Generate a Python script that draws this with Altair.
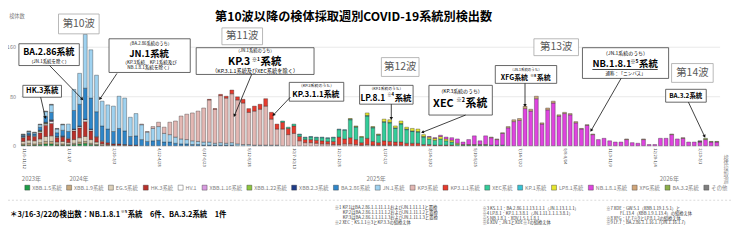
import datetime as dt
import json
import math
import pandas as pd
import altair as alt

FONT = "Noto Sans CJK JP"
N = 124


def pad(start, vals):
    return [0] * start + vals + [0] * (N - start - len(vals))


lineages = ["XBB.1.5系統", "XBB.1.9系統", "EG.5系統", "HK.3系統", "HV.1", "XBB.1.16系統",
            "XBB.1.22系統", "XBB.2.3系統", "BA.2.86系統", "JN.1系統", "KP3系統", "KP3.1.1系統",
            "XEC系統", "KP.1系統", "LP8.1系統", "NB.1.8.1系統", "XFG系統", "BA.3.2系統", "その他"]
colors = ["#1e9e48", "#c8a97e", "#ddd0b8", "#b8312b", "#ffffff", "#d99be0",
          "#8cc63f", "#1f3c88", "#2f86c9", "#9fd2f0", "#e3b7b3", "#e63b2e",
          "#33cc99", "#37c3d6", "#e6e62e", "#df44df", "#d2a679", "#8db04a", "#7f7f7f"]

xbb15 = pad(0, [1, 1, 1, 2, 3, 3, 1, 1, 1, 2, 3, 4, 2, 1])
xbb19 = pad(0, [2, 3, 2, 3, 4, 4, 2, 2, 1, 2, 3, 3, 2, 1, 1, 1])
eg5 = pad(0, [4, 5, 5, 6, 8, 9, 3, 4, 3, 6, 7, 8, 6, 4, 2, 1, 1, 1, 1])
hk3 = pad(0, [6, 7, 7, 10, 18, 20, 7, 7, 6, 14, 16, 24, 14, 8, 4, 3, 2, 2, 1, 1, 1])
hv1 = pad(0, [1, 1, 1, 2, 2, 3, 1, 1, 1, 2, 2, 3, 2, 1, 1])
xbb116 = pad(0, [0, 0, 0, 0, 1, 1])
xbb122 = pad(0, [0, 0, 0, 1, 1, 1])
xbb23 = pad(0, [1, 1, 0, 1, 1, 1, 1, 1, 0, 1, 1, 1, 1])
ba286 = pad(0, [2, 3, 3, 5, 9, 12, 6, 9, 11, 30, 35, 50, 50, 40, 24, 22, 20, 25, 22, 14,
                15, 10, 7, 8, 9, 6, 6, 4, 3, 3, 2, 2, 1, 1, 1, 1, 1, 1])
jn1 = pad(0, [1, 2, 2, 4, 8, 12, 6, 9, 12, 34, 50, 87, 78, 59, 40, 39, 41, 52, 53, 31,
              36, 24, 15, 20, 22, 14, 12, 10, 8, 7, 6, 5, 5, 5, 3, 4, 3, 4, 3, 2,
              2, 1, 1, 1, 1, 1])
kp3 = pad(21, [1, 1, 3, 7, 10, 20, 26, 37, 41, 45, 49, 55, 68, 55, 76, 73, 79, 71, 67, 52,
               55, 58, 63, 42, 26, 27, 18, 20, 8, 5, 5, 4, 3, 3, 2, 2, 3, 3, 2, 1,
               2, 1, 1, 1, 1, 1, 1])
kp311 = pad(33, [1, 1, 2, 3, 6, 5, 6, 6, 8, 8, 12, 11, 8, 11, 10, 12, 7, 5, 5, 5,
                 5, 4, 5, 12, 8, 10, 8, 4, 10, 6, 4, 7, 6, 5, 5, 4, 4, 4, 2, 2,
                 1, 1, 1, 1])
xec = pad(46, [2, 2, 3, 3, 3, 4, 4, 5, 5, 6, 12, 14, 29, 20, 9, 36, 22, 12, 30, 30,
               22, 29, 22, 19, 18, 12, 9, 8, 10, 7, 5, 2, 1, 1, 1, 1, 1, 1, 1, 1])
kp1 = pad(49, [1, 1, 1, 1, 1, 1, 1, 1, 1, 1, 1, 0, 1, 1, 1, 1, 1, 1, 1, 1, 1, 1, 1])
lp81 = pad(58, [1, 1, 1, 4, 1, 1, 4, 4, 3, 4, 3, 4, 4, 3, 3, 3, 4, 3, 3, 2, 1, 1, 1, 1, 1])
nb181 = pad(72, [1, 1, 2, 3, 4, 7, 4, 8, 14, 6, 14, 12, 9, 19, 29, 39, 41, 60, 56, 76,
                 35, 58, 69, 48, 52, 50, 37, 27, 33, 18, 10, 12, 8, 6, 6, 10, 5, 4, 10, 2,
                 2, 12, 12, 18, 11, 12, 6, 6, 6, 10, 6, 6])
xfg = pad(83, [1, 1, 1, 2, 3, 3, 4, 3, 4, 2, 3, 3, 2, 2, 2, 2, 1, 1, 1, 0,
               0, 0, 0, 0, 1, 0, 0, 1, 0, 0, 0, 0, 1, 0, 1])
ba32 = pad(120, [1, 2, 1, 1])
other = pad(0, [1, 1, 1, 1, 1, 1, 1, 1] + [0] * 112 + [1])

series = [xbb15, xbb19, eg5, hk3, hv1, xbb116, xbb122, xbb23, ba286, jn1, kp3, kp311,
          xec, kp1, lp81, nb181, xfg, ba32, other]

first_week = dt.date(2023, 11, 6)
week_start = [first_week + dt.timedelta(weeks=k) for k in range(N)]
week_labels = []
for d in week_start:
    e = d + dt.timedelta(days=6)
    week_labels.append(f"{d.month}/{d.day}-{e.month}/{e.day}")

rows = []
for li, (name, vals) in enumerate(zip(lineages, series)):
    for i, v in enumerate(vals):
        if v > 0:
            rows.append({"i": i, "lineage": name, "count": v, "order": li})
df = pd.DataFrame(rows)

W, H = 706, 125
xsc = alt.Scale(domain=[-0.5, N - 0.5], nice=False, zero=False)
ysc = alt.Scale(domain=[0, 200], nice=False)


def dx(px):
    return (px - 20.5) / (W / N) - 0.5


def dy(py):
    return (146 - py) / 0.625


xaxis = alt.Axis(values=list(range(N)), labelExpr=f"{json.dumps(week_labels)}[datum.value]",
                 labelAngle=90, labelFontSize=4.2, labelColor="#404040", labelFont=FONT,
                 ticks=False, domain=False, grid=False, labelPadding=2, labelOverlap=False,
                 labelBound=False, labelFlush=False, title=None)
yaxis = alt.Axis(values=list(range(0, 201, 20)), labelFontSize=5.5, labelColor="#7f7f7f",
                 labelFont=FONT, ticks=False, domain=False, grid=True, gridColor="#d9d9d9",
                 gridWidth=0.6, labelPadding=5, title=None)
legend = alt.Legend(orient="none", legendX=4, legendY=164, direction="horizontal", columns=19,
                    title=None, symbolType="square", symbolSize=25, symbolStrokeColor="#333333",
                    symbolStrokeWidth=0.4, labelFontSize=5.4, labelFont=FONT, labelColor="#808080",
                    labelOffset=2, columnPadding=3.2, padding=0)

bars = alt.Chart(df).transform_stack(
    stack="count", groupby=["i"], as_=["y0", "y1"],
    sort=[alt.SortField(field="order", order="ascending")]
).transform_calculate(
    xa="datum.i - 0.34", xb="datum.i + 0.34"
).mark_bar(stroke="#222222", strokeWidth=0.35).encode(
    x=alt.X("xa:Q", scale=xsc, axis=xaxis),
    x2="xb:Q",
    y=alt.Y("y0:Q", scale=ysc, axis=yaxis),
    y2="y1:Q",
    color=alt.Color("lineage:N", scale=alt.Scale(domain=lineages, range=colors), legend=legend),
)


# ---------- annotations (page pixel positions converted to data units) ----------
def cw(ch):
    if ord(ch) >= 0x2E80 or ch in "（）「」：、＊※　":
        return 1.0
    if ch in ".,:;'|":
        return 0.27
    if ch in "()-/[] ":
        return 0.34
    if ch.isdigit():
        return 0.57
    if ch.isupper():
        return 0.67
    return 0.52


def twidth(s, fs, bold):
    return sum(cw(c) for c in s) * fs * (1.04 if bold else 1.0)


texts = []


def add(t, x, y, fs, bold=False, color="#000000", align="center"):
    texts.append(dict(t=t, xa=dx(x), y0=dy(y), fs=fs, bold=bold, color=color, align=align))


def add_segs(segs, cx, cy, bold=True, color="#000000", align="center", gap=0.4):
    total = sum(twidth(t, fs, bold) for t, fs, r in segs) + gap * (len(segs) - 1)
    x = cx - total / 2 if align == "center" else cx
    for t, fs, r in segs:
        add(t, x, cy - r, fs, bold, color, "left")
        x += twidth(t, fs, bold) + gap


add_segs([("第10波以降の検体採取週別COVID-19系統別検出数", 12.3, 0)], 364, 16.3)
add("検体数", 17, 15.5, 5.2, color="#7f7f7f")

wave_boxes = [("第10波", 59, 13, 100, 33), ("第11波", 224, 27, 265, 44), ("第12波", 385, 57, 423, 76),
              ("第13波", 539, 38, 584, 55), ("第14波", 678, 63, 720, 82)]
for t, x1, y1, x2, y2 in wave_boxes:
    add(t, (x1 + x2) / 2, (y1 + y2) / 2, 10.5, color="#595959")

note_boxes = [(23, 85, 62, 97), (19, 43, 80, 65), (110, 38, 192, 72), (198, 47, 317, 74),
              (292, 82, 347, 101), (363, 85, 417, 104), (433, 85, 497, 115), (500, 65, 562, 83),
              (588, 47, 675, 78), (672, 89, 713, 102)]

add_segs([("HK.3系統", 7.5, 0)], 42.5, 91)
add_segs([("BA.2.86系統", 9, 0)], 49.5, 51.5)
add("（JN.1系統を除く）", 49.5, 61, 4.5)
add("（BA.2.86系統のうち）", 151, 43.2, 4.3)
add_segs([("JN.1系統", 9.5, 0)], 151, 53.3)
add("（KP.3系統、KP.1系統及び", 151, 62, 4.6)
add("NB.1.8.1系統を除く）", 151, 67.8, 4.6)
add("（JN.1系統のうち）", 257.5, 50.3, 4.3)
add_segs([("KP.3", 10.5, 0), ("※1", 5, 3.2), ("系統", 10.5, 0)], 257.5, 61.5)
add("（KP.3.1.1系統及びXEC系統を除く）", 257.5, 70.2, 5.3)
add("（KP.3系統のうち）", 319.5, 86, 4)
add_segs([("KP.3.1.1系統", 8, 0)], 319.5, 94.5)
add("（KP.1系統のうち）", 390, 89, 3.8)
add_segs([("LP.8.1", 8.5, 0), ("※4", 4.3, 2.5), ("系統", 8.5, 0)], 390, 97.5)
add("（KP.3系統のうち）", 465, 90.5, 5)
add_segs([("XEC", 11, 0), ("※2", 5.5, 3.5), ("系統", 11, 0)], 465, 103.5)
add("（JN.1系統のうち）", 531, 69.3, 3.5)
add_segs([("XFG系統", 7, 0), ("※8", 3.8, 2), ("系統", 7, 0)], 531, 77.8)
add("（JN.1系統のうち）", 631.5, 52.3, 5)
add_segs([("NB.1.8.1", 9.5, 0), ("※5", 5, 3.2), ("系統", 9.5, 0)], 631.5, 63.8)
add("通称：「ニンバス」", 631.5, 74, 4.5)
add_segs([("BA.3.2系統", 6.5, 0)], 692.5, 95.5)

for t, x in [("2023年", 22), ("2024年", 70), ("2025年", 370), ("2026年", 666)]:
    add(t, x, 180, 6, color="#808080", align="left")

add_segs([("＊3/16-3/22の検出数：NB.1.8.1", 7.5, 0), ("※5", 4, 3), ("系統　6件、BA.3.2系統　1件", 7.5, 0)],
         10, 216, align="left")

FN = "#333333"
foot = [
    ("※1 KP.1はBA.2.86.1.1.11.1.1およびJN.1.11.1.1と置換", 338, 208.5),
    ("KP.2はBA.2.86.1.1.11.1.2およびJN.1.11.1.2と置換", 346, 213.5),
    ("KP.3はBA.2.86.1.1.11.1.3およびJN.1.11.1.3と置換", 346, 218.5),
    ("※2 XEC：KS.1.1※3とKP.3.3の組換え体", 338, 223.5),
    ("※3 KS.1.1：BA.2.86.1.1.13.1.1.1（JN.1.13.1.1.1）", 487, 209.5),
    ("※4 LP.8.1：KP.1.1.3.8.1（JN.1.11.1.1.1.3.8.1）", 487, 214.5),
    ("※5 NB.1.8.1：XDV.1.5.1.1.8.1", 487, 219.5),
    ("※6 XDV：JN.1とXDE※7の組換え体", 487, 224.5),
    ("※7 XDE：GW.5.1（XBB.1.19.1.5.1）と", 612, 209.5),
    ("FL.13.4（XBB.1.9.1.13.4）の組換え体", 626, 214.5),
    ("※8 XFG：LF.7※9とLP.8.1.2の組換え体", 612, 219.5),
    ("※9 LF.7：BA.2.86.1.1.16.1.7(JN.1.16.1.7)", 612, 224.5),
]
for t, x, y in foot:
    add(t, x, y, 4.3, color=FN, align="left")

arrows = [((41, 97), (46, 119)), ((50, 65), (84, 100)), ((118, 73), (100, 100)),
          ((254, 74), (236, 117)), ((293, 97), (275, 116)), ((395, 104), (395, 120)),
          ((470, 115), (425, 133)), ((530, 83), (530, 107)), ((627, 78), (596, 132)),
          ((695, 102), (712, 138))]

rule_rows, head_rows = [], []
for (sx, sy), (ex, ey) in arrows:
    L = math.hypot(ex - sx, ey - sy)
    ux, uy = (ex - sx) / L, (ey - sy) / L
    cx, cy = ex - ux * 1.6, ey - uy * 1.6
    rule_rows.append(dict(xa=dx(sx), xb=dx(cx), y0=dy(sy), y1=dy(cy)))
    ang = (math.degrees(math.atan2(ux, -uy)) + 360) % 360
    head_rows.append(dict(xa=dx(cx), y0=dy(cy), ang=ang))
rule_rows.append(dict(xa=dx(598), xb=dx(664), y0=dy(69), y1=dy(69)))

wave_rect = pd.DataFrame([dict(xa=dx(a), xb=dx(c), y0=dy(b), y1=dy(d)) for _, a, b, c, d in wave_boxes])
note_rect = pd.DataFrame([dict(xa=dx(a), xb=dx(c), y0=dy(b), y1=dy(d)) for a, b, c, d in note_boxes])

layers = [bars]
layers.append(alt.Chart(pd.DataFrame([dict(xa=dx(8), xb=dx(738), y0=dy(201), y1=dy(201))]))
              .mark_rule(color="#d0d0d0", strokeWidth=0.8, strokeDash=[2, 2])
              .encode(x=alt.X("xa:Q", scale=xsc), x2="xb:Q", y=alt.Y("y0:Q", scale=ysc), y2="y1:Q"))
layers.append(alt.Chart(wave_rect).mark_rect(fill="white", stroke="#a6a6a6", strokeWidth=0.8)
              .encode(x=alt.X("xa:Q", scale=xsc), x2="xb:Q", y=alt.Y("y0:Q", scale=ysc), y2="y1:Q"))
layers.append(alt.Chart(note_rect).mark_rect(fill="white", stroke="#404040", strokeWidth=0.8)
              .encode(x=alt.X("xa:Q", scale=xsc), x2="xb:Q", y=alt.Y("y0:Q", scale=ysc), y2="y1:Q"))
layers.append(alt.Chart(pd.DataFrame(rule_rows)).mark_rule(color="#111111", strokeWidth=0.8)
              .encode(x=alt.X("xa:Q", scale=xsc), x2="xb:Q", y=alt.Y("y0:Q", scale=ysc), y2="y1:Q"))
layers.append(alt.Chart(pd.DataFrame(head_rows)).mark_point(shape="triangle-up", filled=True, size=12,
                                                             color="#111111", opacity=1)
              .encode(x=alt.X("xa:Q", scale=xsc), y=alt.Y("y0:Q", scale=ysc),
                      angle=alt.Angle("ang:Q", scale=None)))

tdf = pd.DataFrame(texts)
for (bold, color, align), g in tdf.groupby(["bold", "color", "align"]):
    layers.append(alt.Chart(g.reset_index(drop=True)).mark_text(
        font=FONT, fontWeight="bold" if bold else "normal", color=color, align=align, baseline="middle"
    ).encode(x=alt.X("xa:Q", scale=xsc), y=alt.Y("y0:Q", scale=ysc), text="t:N",
             size=alt.Size("fs:Q", scale=None)))

layers.append(alt.Chart(pd.DataFrame([dict(xa=dx(733), y0=dy(156))])).mark_text(
    text=list("検体採取週"), font=FONT, fontSize=5.2, lineHeight=5.8, color="#8c8c8c",
    align="center", baseline="top"
).encode(x=alt.X("xa:Q", scale=xsc), y=alt.Y("y0:Q", scale=ysc)))

chart = alt.layer(*layers).properties(
    width=W, height=H,
    padding={"left": 12.5, "top": 13, "right": 12.5, "bottom": 87},
    autosize=alt.AutoSizeParams(type="none"),
).configure_view(stroke=None)

chart.save("out.html", embed_options={"renderer": "svg", "actions": False})
